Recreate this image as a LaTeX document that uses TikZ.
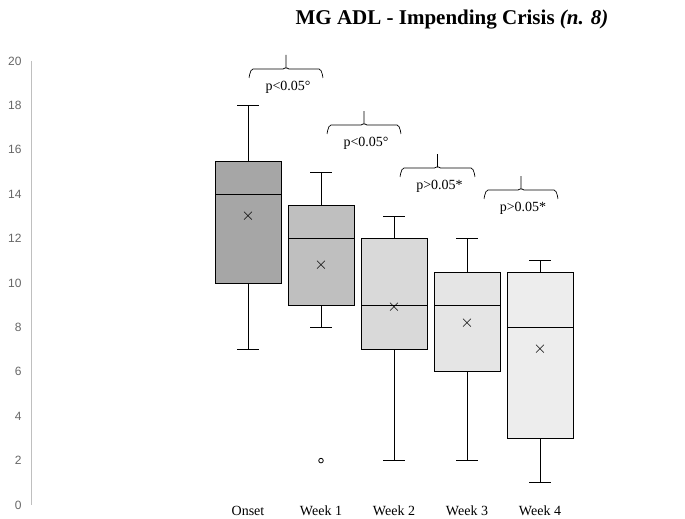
\documentclass[tikz,border=0pt]{standalone}
\usepackage{fontspec}
\setmainfont{Liberation Serif}
\newfontfamily\axfont{Liberation Sans}
\begin{document}
\begin{tikzpicture}[x=1pt,y=-1pt,
  bx/.style={draw=black,line width=0.8pt},
  wh/.style={draw=black,line width=0.8pt},
  tick/.style={font=\axfont\fontsize{12}{14}\selectfont,text=black!60,anchor=east},
  xl/.style={font=\fontsize{14}{16}\selectfont,anchor=center},
  pl/.style={font=\fontsize{14}{16}\selectfont,anchor=center},
  br/.style={draw=black,line width=0.7pt}]
\useasboundingbox (0,0) rectangle (685,519);
\node[font=\bfseries\fontsize{21}{24}\selectfont] (title) at (452,20) {MG ADL - Impending Crisis \textit{(n. 8)}};
\draw[black!25,line width=0.9pt] (31,61) -- (31,505);
\foreach \v in {0,2,...,20} \node[tick] (t\v) at (25,{505-22.2*\v}) {\v};
\newcommand{\onebox}[8]{%
 \draw[wh] (#1,{505-22.2*#6}) -- (#1,{505-22.2*#5});
 \draw[wh] (#1,{505-22.2*#2}) -- (#1,{505-22.2*#3});
 \draw[wh] ({#1-11},{505-22.2*#6}) -- ({#1+11},{505-22.2*#6});
 \draw[wh] ({#1-11},{505-22.2*#2}) -- ({#1+11},{505-22.2*#2});
 \draw[bx,fill=#8] ({#1-33},{505-22.2*#3}) rectangle ({#1+33},{505-22.2*#5});
 \draw[bx] ({#1-33},{505-22.2*#4}) -- ({#1+33},{505-22.2*#4});
 \node[font=\fontsize{16}{16}\selectfont,inner sep=0pt] at (#1,{505-22.2*#7}) {$\times$};}
\onebox{248}{7}{10}{14}{15.5}{18}{13}{black!35}
\onebox{321}{8}{9}{12}{13.5}{15}{10.8}{black!25}
\onebox{394}{2}{7}{9}{12}{13}{8.9}{black!15}
\onebox{467}{2}{6}{9}{10.5}{12}{8.2}{black!10}
\onebox{540}{1}{3}{8}{10.5}{11}{7}{black!7}
\draw[wh,fill=white] (321,{505-22.2*2}) circle (2.3);
\foreach \c/\t [count=\i] in {248/Onset,321/Week 1,394/Week 2,467/Week 3,540/Week 4}
  \node[xl] (x\i) at (\c,511) {\t};
\newcommand{\pbrace}[6]{%
 \draw[br] (#1,#3+8) to[out=-90,in=180] (#1+4,#3) -- (#6-3,#3) to[out=0,in=90] (#6,#3-1) -- (#6,#3-14);
 \draw[br] (#2,#3+8) to[out=-90,in=0] (#2-4,#3) -- (#6+3,#3) to[out=180,in=90] (#6,#3-1);
 \node[pl] (#5) at (#6+2,#3+18) {#4};}
\pbrace{249}{323}{69}{p<0.05°}{p1}{286}
\pbrace{327}{401}{125}{p<0.05°}{p2}{364}
\pbrace{400}{475}{168}{p>0.05*}{p3}{437.5}
\pbrace{484}{558}{190}{p>0.05*}{p4}{521}
\end{tikzpicture}
\end{document}
